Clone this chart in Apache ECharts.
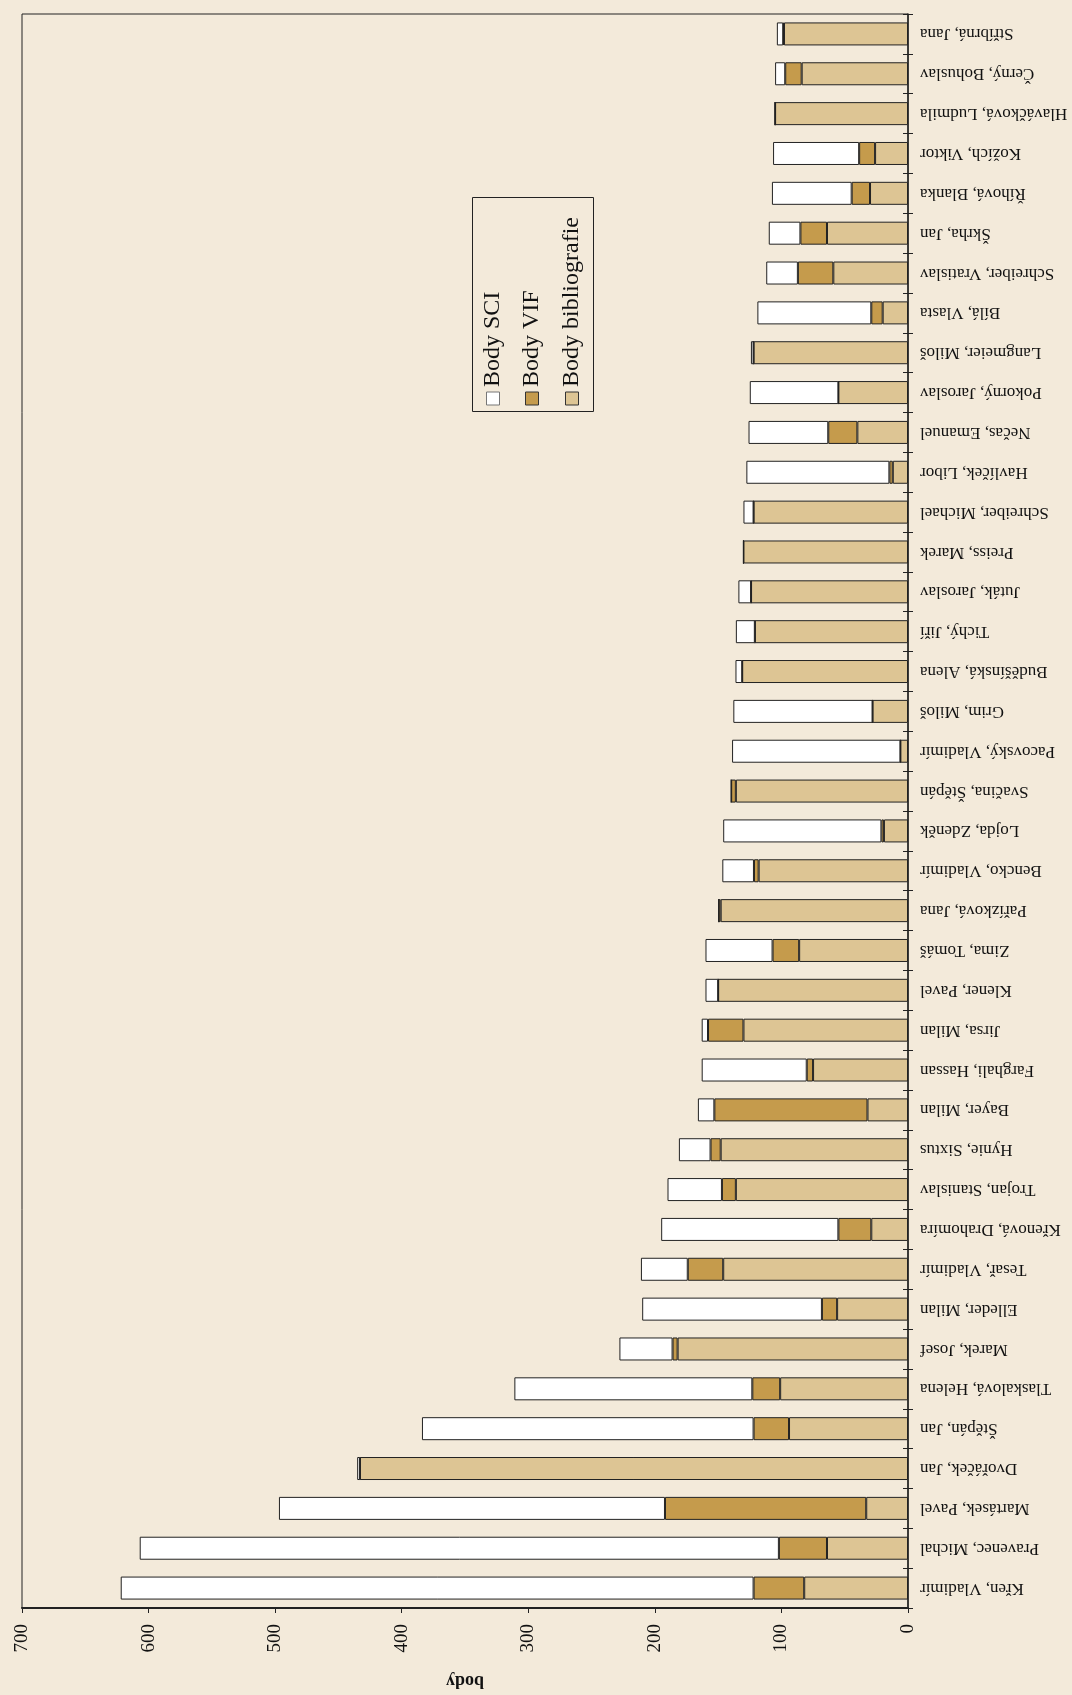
<!DOCTYPE html>
<html>
<head>
<meta charset="utf-8">
<script src="https://cdn.jsdelivr.net/npm/echarts@6/dist/echarts.min.js"></script>
<style>
  html, body { margin: 0; padding: 0; background: #f3eada; }
  #main { width: 1072px; height: 1695px; }
</style>
</head>
<body>
<div id="main"></div>
<script>
// jména odspodu nahoru
var names = ['Křen, Vladimír', 'Pravenec, Michal', 'Martásek, Pavel', 'Dvořáček, Jan', 'Štěpán, Jan',
    'Tlaskalová, Helena', 'Marek, Josef', 'Elleder, Milan', 'Tesař, Vladimír', 'Křenová, Drahomíra',
    'Trojan, Stanislav', 'Hynie, Sixtus', 'Bayer, Milan', 'Farghali, Hassan', 'Jirsa, Milan',
    'Klener, Pavel', 'Zima, Tomáš', 'Pařízková, Jana', 'Bencko, Vladimír', 'Lojda, Zdeněk',
    'Svačina, Štěpán', 'Pacovský, Vladimír', 'Grim, Miloš', 'Buděšínská, Alena', 'Tichý, Jiří',
    'Juták, Jaroslav', 'Preiss, Marek', 'Schreiber, Michael', 'Havlíček, Libor', 'Nečas, Emanuel',
    'Pokorný, Jaroslav', 'Langmeier, Miloš', 'Bílá, Vlasta', 'Schreiber, Vratislav', 'Škrha, Jan',
    'Říhová, Blanka', 'Kožích, Viktor', 'Hlaváčková, Ludmila', 'Černý, Bohuslav', 'Stříbrná, Jana'];

var bodyBibliografie = [82, 64, 33, 433, 94,
    101, 182, 56, 146, 29,
    136, 148, 32, 75, 130,
    150, 86, 148, 118, 19,
    136, 6, 28, 131, 121,
    124, 130, 122, 12, 40,
    55, 122, 20, 59, 64,
    30, 26, 105, 84, 98];

var bodyVIF = [40, 38, 159, 0, 28,
    22, 4, 12, 28, 26,
    11, 8, 121, 5, 28,
    0, 21, 1.6, 3.7, 2,
    3.7, 0, 0, 0, 0,
    0, 0, 0, 2.7, 23,
    0, 0, 9, 28, 21,
    14.5, 12.6, 0, 13, 0.6];

var bodySCI = [500, 505, 305, 2.2, 262,
    188, 42, 142, 37, 140,
    43, 25, 13, 83, 5,
    10, 53, 0, 25, 125,
    0, 133, 110, 5.3, 15,
    10, 0, 8, 113, 63,
    70, 2.1, 90, 25, 25,
    63, 68, 0, 8, 5];

var xTicks = [0, 100, 200, 300, 400, 500, 600, 700];

var serif = 'Liberation Serif';
var colSCI = '#ffffff';
var colVIF = '#c59b4c';
var colBib = '#ddc594';
var bg = '#f3eada';

var chart = echarts.init(document.getElementById('main'));

function barSeries(name, data, color) {
    return {
        name: name,
        type: 'bar',
        stack: 'body',
        barWidth: 23,
        yAxisIndex: 0,
        itemStyle: { color: color, borderColor: '#222', borderWidth: 1 },
        data: data,
        animation: false
    };
}

// legenda je otočená, proto ručně přes graphic
var legendX = [493, 532, 572];
var legendNames = ['Body SCI', 'Body VIF', 'Body bibliografie'];
var legendCols = [colSCI, colVIF, colBib];
var legendItems = [{
    type: 'rect',
    shape: { x: 472.5, y: 197.5, width: 121, height: 214 },
    style: { fill: 'transparent', stroke: '#222', lineWidth: 1 }
}];
for (var i = 0; i < 3; i++) {
    legendItems.push({
        type: 'rect',
        shape: { x: legendX[i] - 6.5, y: 392, width: 13, height: 13 },
        style: { fill: legendCols[i], stroke: i === 0 ? '#777' : '#333', lineWidth: 1 }
    });
    legendItems.push({
        type: 'text',
        x: legendX[i],
        y: 387,
        rotation: Math.PI / 2,
        style: {
            text: legendNames[i],
            font: '24px "Liberation Serif"',
            fill: '#111',
            align: 'left',
            verticalAlign: 'middle'
        }
    });
}

var option = {
    backgroundColor: bg,
    grid: {
        left: 22,
        right: 164,
        top: 14,
        bottom: 84,
        show: true,
        borderColor: '#222',
        borderWidth: 1,
        backgroundColor: 'transparent'
    },
    xAxis: {
        type: 'value',
        inverse: true,
        min: 0,
        max: 700,
        interval: 100,
        name: 'body',
        nameLocation: 'middle',
        nameGap: 64,
        nameRotate: 180,
        nameTextStyle: { fontFamily: serif, fontSize: 18, fontWeight: 'bold', color: '#111' },
        axisLine: { show: true, lineStyle: { color: '#222', width: 2 } },
        axisTick: { show: true, length: 5, lineStyle: { color: '#222' } },
        axisLabel: {
            rotate: 90,
            margin: 16,
            fontFamily: serif,
            fontSize: 19,
            color: '#111',
            formatter: function (v) { return xTicks.indexOf(v) >= 0 ? String(v) : ''; }
        },
        splitLine: { show: false }
    },
    yAxis: [
        {
            type: 'category',
            position: 'right',
            data: names,
            axisLine: { show: true, lineStyle: { color: '#222', width: 1.5 } },
            axisTick: { show: true, length: 5, lineStyle: { color: '#222' } },
            axisLabel: {
                rotate: 180,
                margin: 12,
                fontFamily: serif,
                fontSize: 17,
                color: '#111'
            },
            splitLine: { show: false }
        },
        {
            type: 'category',
            position: 'right',
            data: names,
            axisLine: { show: false },
            axisTick: { show: true, inside: true, length: 5, lineStyle: { color: '#222' } },
            axisLabel: { show: false },
            splitLine: { show: false }
        }
    ],
    series: [
        barSeries('Body bibliografie', bodyBibliografie, colBib),
        barSeries('Body VIF', bodyVIF, colVIF),
        barSeries('Body SCI', bodySCI, colSCI)
    ],
    graphic: legendItems
};

if (option && typeof option === "object") {
    chart.setOption(option, true);
}
</script>
</body>
</html>
